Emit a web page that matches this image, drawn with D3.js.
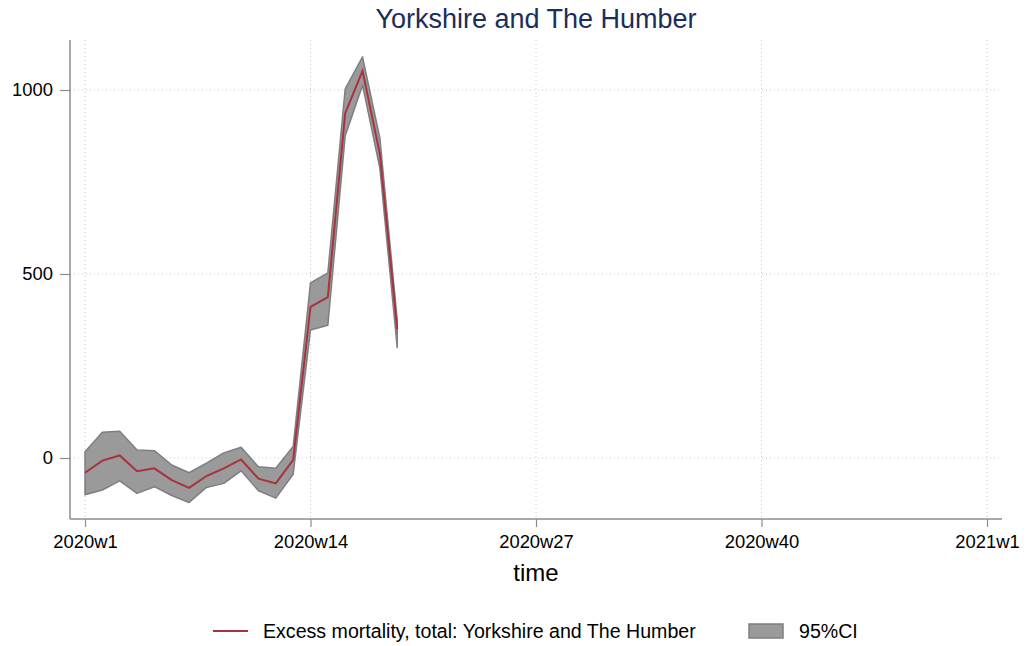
<!DOCTYPE html>
<html>
<head>
<meta charset="utf-8">
<script src="https://cdn.jsdelivr.net/npm/d3@7"></script>
<style>
  body { margin: 0; background: #fff; }
  svg { display: block; font-family: "Liberation Sans", Arial, sans-serif; }
</style>
</head>
<body>
<svg id="chart" width="1030" height="646"></svg>
<script>
// weeks since 2020w1
const weeks = d3.range(0, 19);
const excess = [-40, -7, 7, -36, -28, -60, -81, -49, -28, -4, -56, -69, -5, 411, 437, 937, 1052, 826, 350];
const ciUpper = [17, 70, 73, 22, 20, -19, -40, -14, 14, 29, -24, -28, 31, 476, 503, 1003, 1090, 869, 375];
const ciLower = [-100, -87, -62, -96, -78, -102, -121, -80, -69, -35, -89, -109, -44, 348, 361, 875, 1013, 787, 300];

const xTicks = [0, 13, 26, 39, 52];
const xTickLabels = ['2020w1', '2020w14', '2020w27', '2020w40', '2021w1'];
const yTicks = [0, 500, 1000];

const svg = d3.select('#chart');

const plot = { left: 70, right: 1002, top: 40, bottom: 519 };

const x = d3.scaleLinear().domain([0, 52]).range([85, 987]);
const y = d3.scaleLinear().domain([0, 1000]).range([458, 90]);

const grid = '#c8c8c8';
const axisCol = '#8c8c8c';
const font = '"Liberation Sans", Arial, sans-serif';

// Gridlines (dotted)
svg.append('g').selectAll('line')
  .data(yTicks).join('line')
  .attr('x1', plot.left).attr('x2', plot.right)
  .attr('y1', d => y(d)).attr('y2', d => y(d))
  .attr('stroke', grid).attr('stroke-width', 1)
  .attr('stroke-dasharray', '1 3');

svg.append('g').selectAll('line')
  .data(xTicks).join('line')
  .attr('x1', d => x(d)).attr('x2', d => x(d))
  .attr('y1', plot.top).attr('y2', plot.bottom)
  .attr('stroke', grid).attr('stroke-width', 1)
  .attr('stroke-dasharray', '1 3');

// 95% CI band
const band = weeks.map((w, i) => ({ w, lo: ciLower[i], hi: ciUpper[i] }));
svg.append('path')
  .datum(band)
  .attr('d', d3.area().x(d => x(d.w)).y0(d => y(d.lo)).y1(d => y(d.hi)))
  .attr('fill', '#9a9a9a')
  .attr('stroke', '#7f7f7f')
  .attr('stroke-width', 1.5)
  .attr('stroke-linejoin', 'round');

// Excess mortality line
svg.append('path')
  .datum(weeks.map((w, i) => ({ w, v: excess[i] })))
  .attr('d', d3.line().x(d => x(d.w)).y(d => y(d.v)))
  .attr('fill', 'none')
  .attr('stroke', '#a8323e')
  .attr('stroke-width', 2);

// Axes
const xAxis = d3.axisBottom(x)
  .tickValues(xTicks)
  .tickFormat((d, i) => xTickLabels[i])
  .tickSizeOuter(0)
  .tickSize(8)
  .tickPadding(8);

const gx = svg.append('g')
  .attr('transform', `translate(0,${plot.bottom})`)
  .call(xAxis);
gx.select('.domain').remove();
gx.append('line')
  .attr('x1', plot.left).attr('x2', plot.right)
  .attr('stroke', axisCol).attr('stroke-width', 1.5);
gx.selectAll('.tick line').attr('stroke', axisCol).attr('stroke-width', 1.2);
gx.selectAll('.tick text')
  .attr('fill', '#000').attr('font-size', 18.4)
  .attr('font-family', font);

const yAxis = d3.axisLeft(y)
  .tickValues(yTicks)
  .tickFormat(d3.format('d'))
  .tickSizeOuter(0)
  .tickSize(10)
  .tickPadding(7);

const gy = svg.append('g')
  .attr('transform', `translate(${plot.left},0)`)
  .call(yAxis);
gy.select('.domain').remove();
gy.append('line')
  .attr('y1', plot.top).attr('y2', plot.bottom)
  .attr('stroke', axisCol).attr('stroke-width', 1.5);
gy.selectAll('.tick line').attr('stroke', axisCol).attr('stroke-width', 1.2);
gy.selectAll('.tick text')
  .attr('fill', '#000').attr('font-size', 18.4)
  .attr('font-family', font);

// Title and axis title
svg.append('text')
  .attr('x', (plot.left + plot.right) / 2).attr('y', 28)
  .attr('text-anchor', 'middle')
  .attr('font-size', 27)
  .attr('fill', '#1c2d5c')
  .text('Yorkshire and The Humber');

svg.append('text')
  .attr('x', (plot.left + plot.right) / 2).attr('y', 581)
  .attr('text-anchor', 'middle')
  .attr('font-size', 24)
  .attr('fill', '#000')
  .text('time');

// Legend
const legend = svg.append('g').attr('transform', 'translate(0,631)');
legend.append('line')
  .attr('x1', 213).attr('x2', 248)
  .attr('stroke', '#a8323e').attr('stroke-width', 2);
legend.append('text')
  .attr('x', 263).attr('y', 7)
  .attr('font-size', 19.6).attr('fill', '#000')
  .text('Excess mortality, total: Yorkshire and The Humber');
legend.append('rect')
  .attr('x', 749).attr('y', -7).attr('width', 34).attr('height', 14)
  .attr('fill', '#9a9a9a').attr('stroke', '#7f7f7f').attr('stroke-width', 1.5);
legend.append('text')
  .attr('x', 799).attr('y', 7)
  .attr('font-size', 19.6).attr('fill', '#000')
  .text('95%CI');
</script>
</body>
</html>
